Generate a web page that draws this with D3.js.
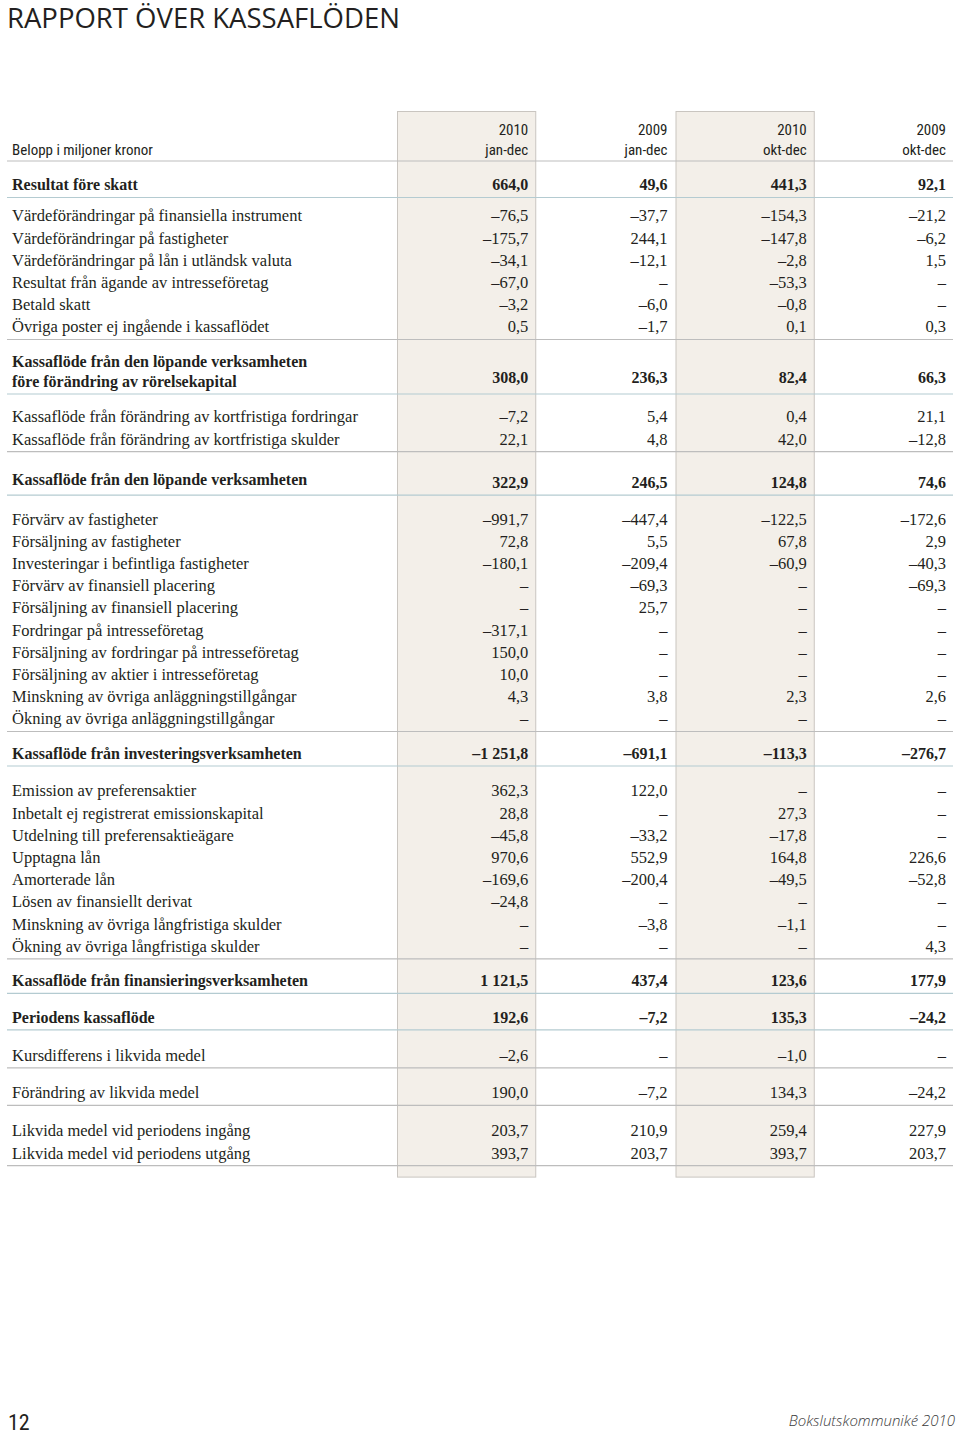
<!DOCTYPE html>
<html>
<head>
<meta charset="utf-8">
<script src="https://cdn.jsdelivr.net/npm/d3@7"></script>
<style>
  body { margin: 0; background: #fff; }
  .serif { font-family: "Liberation Serif", "DejaVu Serif", serif; font-size: 16.5px; fill: #231f20; }
  .narrow { font-family: "Liberation Sans Narrow", "Roboto", sans-serif; font-stretch: condensed; font-size: 15px; fill: #231f20; }
</style>
</head>
<body>
<svg width="960" height="1435"></svg>
<script>
// Kolumner
var years = ["2010", "2009", "2010", "2009"];
var periods = ["jan-dec", "jan-dec", "okt-dec", "okt-dec"];
var shadedCols = [0, 2];

// Radetiketter (i ordning) och antal rader per block
var rowLabels = [
  "Resultat före skatt",
  "Värdeförändringar på finansiella instrument",
  "Värdeförändringar på fastigheter",
  "Värdeförändringar på lån i utländsk valuta",
  "Resultat från ägande av intresseföretag",
  "Betald skatt",
  "Övriga poster ej ingående i kassaflödet",
  "Kassaflöde från den löpande verksamheten\nföre förändring av rörelsekapital",
  "Kassaflöde från förändring av kortfristiga fordringar",
  "Kassaflöde från förändring av kortfristiga skulder",
  "Kassaflöde från den löpande verksamheten",
  "Förvärv av fastigheter",
  "Försäljning av fastigheter",
  "Investeringar i befintliga fastigheter",
  "Förvärv av finansiell placering",
  "Försäljning av finansiell placering",
  "Fordringar på intresseföretag",
  "Försäljning av fordringar på intresseföretag",
  "Försäljning av aktier i intresseföretag",
  "Minskning av övriga anläggningstillgångar",
  "Ökning av övriga anläggningstillgångar",
  "Kassaflöde från investeringsverksamheten",
  "Emission av preferensaktier",
  "Inbetalt ej registrerat emissionskapital",
  "Utdelning till preferensaktieägare",
  "Upptagna lån",
  "Amorterade lån",
  "Lösen av finansiellt derivat",
  "Minskning av övriga långfristiga skulder",
  "Ökning av övriga långfristiga skulder",
  "Kassaflöde från finansieringsverksamheten",
  "Periodens kassaflöde",
  "Kursdifferens i likvida medel",
  "Förändring av likvida medel",
  "Likvida medel vid periodens ingång",
  "Likvida medel vid periodens utgång"
];
var groupSizes = [1, 6, 1, 2, 1, 10, 1, 8, 1, 1, 1, 1, 2];
var subtotals = [
  "Resultat före skatt",
  "Kassaflöde från den löpande verksamheten\nföre förändring av rörelsekapital",
  "Kassaflöde från den löpande verksamheten",
  "Kassaflöde från investeringsverksamheten",
  "Kassaflöde från finansieringsverksamheten",
  "Periodens kassaflöde"
];

// Värden (null = –)
var jandec2010 = [664.0, -76.5, -175.7, -34.1, -67.0, -3.2, 0.5, 308.0, -7.2, 22.1, 322.9,
  -991.7, 72.8, -180.1, null, null, -317.1, 150.0, 10.0, 4.3, null, -1251.8,
  362.3, 28.8, -45.8, 970.6, -169.6, -24.8, null, null, 1121.5, 192.6, -2.6, 190.0, 203.7, 393.7];
var jandec2009 = [49.6, -37.7, 244.1, -12.1, null, -6.0, -1.7, 236.3, 5.4, 4.8, 246.5,
  -447.4, 5.5, -209.4, -69.3, 25.7, null, null, null, 3.8, null, -691.1,
  122.0, null, -33.2, 552.9, -200.4, null, -3.8, null, 437.4, -7.2, null, -7.2, 210.9, 203.7];
var oktdec2010 = [441.3, -154.3, -147.8, -2.8, -53.3, -0.8, 0.1, 82.4, 0.4, 42.0, 124.8,
  -122.5, 67.8, -60.9, null, null, null, null, null, 2.3, null, -113.3,
  null, 27.3, -17.8, 164.8, -49.5, null, -1.1, null, 123.6, 135.3, -1.0, 134.3, 259.4, 393.7];
var oktdec2009 = [92.1, -21.2, -6.2, 1.5, null, null, 0.3, 66.3, 21.1, -12.8, 74.6,
  -172.6, 2.9, -40.3, -69.3, null, null, null, null, 2.6, null, -276.7,
  null, null, null, 226.6, -52.8, null, null, 4.3, 177.9, -24.2, null, -24.2, 227.9, 203.7];

var columns = [jandec2010, jandec2009, oktdec2010, oktdec2009];

var svg = d3.select("svg");

var sv = d3.formatLocale({decimal: ",", thousands: " ", grouping: [3], currency: ["", " kr"], minus: "\u2013"});
var fmt = sv.format(",.1f");
function cell(v) { return v == null ? "\u2013" : fmt(v); }

// Layout
var left = 7, right = 953, headerLine = 161;
var rowStep = 22.2, topGap = 22, bottomGap = 12.5, lineStep = 20;
// förlagans blockavstånd är inte helt jämna
var extraTop = {0: 2, 1: -3.5, 3: 1, 4: 9, 5: 2, 7: 3, 9: 2, 10: 3.5, 11: 3, 12: 3.5};
var labelShift = {4: -3};

var x = d3.scaleBand()
    .domain(d3.range(columns.length))
    .range([397, 954]);
var pad = 8;

// Radpositioner per block
var rows = [], rules = [];
var y = headerLine, idx = 0;
groupSizes.forEach(function (n, g) {
  var c = y + topGap + (extraTop[g] || 0);
  for (var i = 0; i < n; i++) {
    var lines = rowLabels[idx].split("\n");
    rows.push({i: idx, label: lines, y: c + (labelShift[g] || 0), vy: c + (lines.length - 1) * (lineStep - 4),
               bold: subtotals.indexOf(rowLabels[idx]) >= 0});
    c += (lines.length - 1) * lineStep;
    if (i < n - 1) c += rowStep;
    idx++;
  }
  y = c + bottomGap;
  rules.push({y: y, blue: subtotals.indexOf(rowLabels[idx - 1]) >= 0});
});

// Skuggade kolumner
svg.append("g").selectAll("rect")
  .data(shadedCols)
  .enter().append("rect")
  .attr("x", function (d) { return x(d) + 0.5; })
  .attr("y", 111.5)
  .attr("width", x.bandwidth() - 1)
  .attr("height", y + 11.5 - 111.5)
  .attr("fill", "#f3efe9")
  .attr("stroke", "#c9c5c0")
  .attr("stroke-width", 1);

// Linjer
svg.append("line")
  .attr("x1", left).attr("x2", right)
  .attr("y1", headerLine).attr("y2", headerLine)
  .attr("stroke", "#bdbdbd").attr("stroke-width", 1.2);
svg.append("g").selectAll("line")
  .data(rules)
  .enter().append("line")
  .attr("x1", left).attr("x2", right)
  .attr("y1", function (d) { return d.y; })
  .attr("y2", function (d) { return d.y; })
  .attr("stroke", function (d) { return d.blue ? "#b4cbd1" : "#bdbdbd"; })
  .attr("stroke-width", 1.2);

// Titel
svg.append("text")
  .attr("x", 7).attr("y", 28)
  .style("font-family", "'Open Sans', 'Noto Sans', sans-serif")
  .style("font-size", "27.5px")
  .style("fill", "#231f20")
  .text("RAPPORT ÖVER KASSAFLÖDEN");

// Kolumnrubriker
svg.append("text").attr("class", "narrow")
  .attr("x", 12).attr("y", 155)
  .text("Belopp i miljoner kronor");
var head = svg.append("g").selectAll("g")
  .data(d3.range(columns.length))
  .enter().append("g");
head.append("text").attr("class", "narrow")
  .attr("x", function (d) { return x(d) + x.bandwidth() - pad; })
  .attr("y", 135)
  .attr("text-anchor", "end")
  .text(function (d) { return years[d]; });
head.append("text").attr("class", "narrow")
  .attr("x", function (d) { return x(d) + x.bandwidth() - pad; })
  .attr("y", 155)
  .attr("text-anchor", "end")
  .text(function (d) { return periods[d]; });

// Rader
var row = svg.append("g").selectAll("g")
  .data(rows)
  .enter().append("g");

row.append("text").attr("class", "serif")
  .attr("y", function (d) { return d.y; })
  .style("font-weight", function (d) { return d.bold ? "bold" : "normal"; })
  .style("font-size", function (d) { return d.bold ? "16px" : null; })
  .selectAll("tspan")
  .data(function (d) { return d.label; })
  .enter().append("tspan")
  .attr("x", 12)
  .attr("dy", function (d, i) { return i ? lineStep : "0.33em"; })
  .text(function (d) { return d; });

row.selectAll("text.val")
  .data(function (d) { return columns.map(function (col, j) { return {j: j, v: col[d.i], y: d.vy, bold: d.bold}; }); })
  .enter().append("text")
  .attr("class", "serif val")
  .attr("x", function (d) { return x(d.j) + x.bandwidth() - pad; })
  .attr("y", function (d) { return d.y; })
  .attr("dy", "0.33em")
  .attr("text-anchor", "end")
  .style("font-weight", function (d) { return d.bold ? "bold" : "normal"; })
  .style("font-size", function (d) { return d.bold ? "16px" : null; })
  .text(function (d) { return cell(d.v); });

// Sidfot
svg.append("text").attr("class", "narrow")
  .attr("x", 8).attr("y", 1430)
  .style("font-size", "22px")
  .text("12");
svg.append("text")
  .attr("x", 955).attr("y", 1426)
  .attr("text-anchor", "end")
  .style("font-family", "'Open Sans', sans-serif")
  .style("font-style", "italic")
  .style("font-weight", 300)
  .style("font-size", "15px")
  .style("fill", "#3a3a3a")
  .text("Bokslutskommuniké 2010");
</script>
</body>
</html>
